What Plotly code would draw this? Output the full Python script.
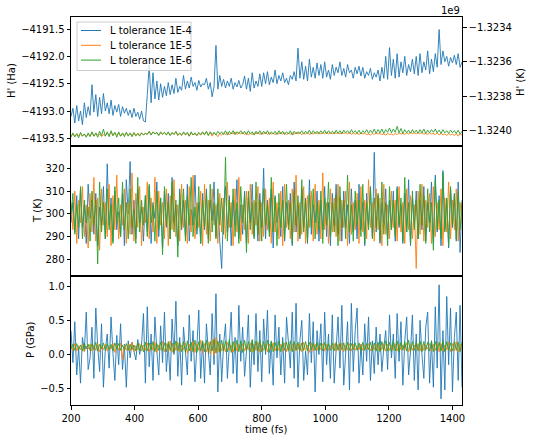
import plotly.graph_objects as go

# time axis (fs), one sample every 6 fs
time = list(range(200, 1431, 6))

series_names = ["L tolerance 1E-4", "L tolerance 1E-5", "L tolerance 1E-6"]
colors = ["#1f77b4", "#ff7f0e", "#2ca02c"]

# H' (Ha)
H_1e4 = [
    -4193.10, -4192.95, -4193.22, -4192.90, -4193.18, -4193.00, -4193.25, -4192.85, -4193.12, -4192.92,
    -4193.08, -4192.52, -4193.02, -4192.70, -4193.10, -4192.75, -4193.05, -4192.68, -4193.00, -4192.85,
    -4193.05, -4192.80, -4193.08, -4192.90, -4193.02, -4192.88, -4193.10, -4192.92, -4193.04, -4192.95,
    -4193.08, -4192.98, -4193.12, -4192.95, -4193.10, -4193.02, -4193.15, -4193.00, -4193.18, -4193.20,
    -4192.70, -4192.16, -4192.85, -4192.30, -4192.78, -4192.45, -4192.80, -4192.50, -4192.75, -4192.55,
    -4192.72, -4192.48, -4192.70, -4192.52, -4192.68, -4192.40, -4192.66, -4192.55, -4192.62, -4192.35,
    -4192.60, -4192.45, -4192.58, -4192.38, -4192.55, -4192.48, -4192.62, -4192.44, -4192.56, -4192.50,
    -4192.52, -4192.40, -4192.60, -4192.48, -4192.74, -4192.55, -4191.80, -4192.60, -4192.35, -4192.55,
    -4192.42, -4192.58, -4192.45, -4192.55, -4192.40, -4192.60, -4192.48, -4192.56, -4192.44, -4192.58,
    -4192.52, -4192.36, -4192.60, -4192.40, -4192.64, -4192.30, -4192.58, -4192.45, -4192.55, -4192.32,
    -4192.55, -4192.30, -4192.50, -4192.28, -4192.52, -4192.38, -4192.48, -4192.25, -4192.50, -4192.35,
    -4192.45, -4192.30, -4192.48, -4192.40, -4192.52, -4192.35, -4192.42, -4192.28, -4192.45, -4191.85,
    -4192.40, -4192.10, -4192.42, -4192.18, -4192.45, -4192.05, -4192.38, -4192.20, -4192.40, -4192.12,
    -4192.35, -4192.15, -4192.40, -4192.10, -4192.38, -4192.25, -4192.42, -4192.15, -4192.35, -4192.20,
    -4192.30, -4192.10, -4192.35, -4192.22, -4192.38, -4192.15, -4192.30, -4192.25, -4192.40, -4192.20,
    -4192.32, -4192.18, -4192.36, -4192.20, -4192.40, -4192.28, -4192.35, -4192.22, -4192.42, -4192.30,
    -4192.38, -4192.25, -4192.45, -4192.20, -4192.40, -4192.00, -4192.42, -4191.84, -4192.35, -4192.05,
    -4192.40, -4191.95, -4192.38, -4192.10, -4192.30, -4192.00, -4192.35, -4192.15, -4192.28, -4192.05,
    -4192.32, -4192.00, -4192.35, -4191.95, -4192.30, -4192.10, -4192.25, -4191.90, -4192.32, -4192.05,
    -4192.28, -4191.95, -4192.20, -4191.51, -4192.15, -4191.90, -4192.10, -4192.00, -4192.18, -4192.02,
    -4192.12, -4191.98, -4192.15, -4191.95, -4192.20, -4192.10,
]
H_1e5 = [
    -4193.46, -4193.42, -4193.47, -4193.43, -4193.45, -4193.41, -4193.46, -4193.42, -4193.47, -4193.43,
    -4193.45, -4193.40, -4193.46, -4193.41, -4193.44, -4193.42, -4193.47, -4193.43, -4193.45, -4193.41,
    -4193.44, -4193.39, -4193.45, -4193.40, -4193.43, -4193.41, -4193.46, -4193.42, -4193.44, -4193.40,
    -4193.45, -4193.41, -4193.44, -4193.42, -4193.46, -4193.41, -4193.44, -4193.40, -4193.43, -4193.41,
    -4193.42, -4193.38, -4193.43, -4193.39, -4193.41, -4193.40, -4193.44, -4193.40, -4193.42, -4193.39,
    -4193.43, -4193.40, -4193.44, -4193.41, -4193.42, -4193.39, -4193.45, -4193.41, -4193.43, -4193.40,
    -4193.44, -4193.41, -4193.46, -4193.40, -4193.43, -4193.42, -4193.45, -4193.41, -4193.44, -4193.40,
    -4193.42, -4193.38, -4193.44, -4193.39, -4193.46, -4193.40, -4193.43, -4193.47, -4193.41, -4193.44,
    -4193.40, -4193.43, -4193.39, -4193.44, -4193.40, -4193.42, -4193.38, -4193.43, -4193.40, -4193.42,
    -4193.39, -4193.43, -4193.40, -4193.44, -4193.41, -4193.43, -4193.40, -4193.42, -4193.39, -4193.43,
    -4193.40, -4193.42, -4193.39, -4193.43, -4193.40, -4193.42, -4193.41, -4193.43, -4193.40, -4193.42,
    -4193.39, -4193.42, -4193.40, -4193.43, -4193.41, -4193.42, -4193.40, -4193.43, -4193.39, -4193.42,
    -4193.40, -4193.43, -4193.41, -4193.42, -4193.40, -4193.43, -4193.41, -4193.42, -4193.40, -4193.41,
    -4193.39, -4193.42, -4193.40, -4193.41, -4193.39, -4193.42, -4193.40, -4193.42, -4193.39, -4193.41,
    -4193.40, -4193.42, -4193.39, -4193.41, -4193.40, -4193.42, -4193.39, -4193.43, -4193.40, -4193.42,
    -4193.41, -4193.43, -4193.40, -4193.42, -4193.41, -4193.43, -4193.42, -4193.44, -4193.41, -4193.43,
    -4193.40, -4193.42, -4193.41, -4193.43, -4193.42, -4193.44, -4193.41, -4193.43, -4193.42, -4193.44,
    -4193.41, -4193.43, -4193.40, -4193.42, -4193.41, -4193.43, -4193.40, -4193.42, -4193.39, -4193.41,
    -4193.40, -4193.42, -4193.39, -4193.41, -4193.40, -4193.42, -4193.41, -4193.43, -4193.40, -4193.42,
    -4193.41, -4193.43, -4193.40, -4193.44, -4193.41, -4193.43, -4193.42, -4193.45, -4193.41, -4193.44,
    -4193.42, -4193.45, -4193.41, -4193.46, -4193.42, -4193.44,
]
H_1e6 = [
    -4193.48, -4193.40, -4193.47, -4193.41, -4193.49, -4193.39, -4193.46, -4193.42, -4193.48, -4193.40,
    -4193.47, -4193.38, -4193.46, -4193.40, -4193.48, -4193.37, -4193.45, -4193.33, -4193.46, -4193.38,
    -4193.47, -4193.36, -4193.45, -4193.39, -4193.48, -4193.38, -4193.46, -4193.40, -4193.47, -4193.39,
    -4193.46, -4193.40, -4193.47, -4193.39, -4193.45, -4193.41, -4193.46, -4193.40, -4193.44, -4193.41,
    -4193.43, -4193.37, -4193.44, -4193.38, -4193.42, -4193.39, -4193.45, -4193.38, -4193.43, -4193.39,
    -4193.44, -4193.38, -4193.45, -4193.39, -4193.43, -4193.37, -4193.44, -4193.40, -4193.45, -4193.38,
    -4193.43, -4193.39, -4193.46, -4193.38, -4193.44, -4193.40, -4193.45, -4193.39, -4193.43, -4193.38,
    -4193.44, -4193.37, -4193.45, -4193.38, -4193.43, -4193.39, -4193.44, -4193.37, -4193.42, -4193.38,
    -4193.43, -4193.36, -4193.44, -4193.37, -4193.42, -4193.36, -4193.43, -4193.38, -4193.41, -4193.36,
    -4193.42, -4193.37, -4193.43, -4193.36, -4193.42, -4193.38, -4193.44, -4193.37, -4193.42, -4193.36,
    -4193.43, -4193.37, -4193.42, -4193.36, -4193.43, -4193.38, -4193.42, -4193.37, -4193.43, -4193.36,
    -4193.42, -4193.37, -4193.43, -4193.38, -4193.42, -4193.36, -4193.44, -4193.37, -4193.42, -4193.38,
    -4193.41, -4193.36, -4193.42, -4193.37, -4193.41, -4193.35, -4193.42, -4193.36, -4193.41, -4193.37,
    -4193.42, -4193.36, -4193.41, -4193.35, -4193.42, -4193.36, -4193.41, -4193.37, -4193.42, -4193.35,
    -4193.41, -4193.36, -4193.42, -4193.35, -4193.40, -4193.36, -4193.41, -4193.34, -4193.40, -4193.36,
    -4193.41, -4193.35, -4193.42, -4193.36, -4193.40, -4193.34, -4193.41, -4193.35, -4193.40, -4193.33,
    -4193.41, -4193.34, -4193.40, -4193.33, -4193.41, -4193.34, -4193.39, -4193.31, -4193.40, -4193.33,
    -4193.39, -4193.28, -4193.40, -4193.32, -4193.41, -4193.34, -4193.40, -4193.35, -4193.41, -4193.34,
    -4193.40, -4193.35, -4193.41, -4193.34, -4193.40, -4193.33, -4193.41, -4193.35, -4193.40, -4193.34,
    -4193.39, -4193.33, -4193.40, -4193.35, -4193.41, -4193.34, -4193.40, -4193.36, -4193.41, -4193.35,
    -4193.40, -4193.36, -4193.41, -4193.35, -4193.42, -4193.37,
]

# T (K)
T_1e4 = [
    296, 305, 292, 308, 289, 311, 294, 304, 287, 313,
    298, 306, 291, 309, 286, 303, 295, 312, 289, 322,
    295, 307, 288, 310, 293, 301, 290, 309, 286, 315,
    300, 323, 291, 306, 289, 311, 296, 303, 288, 308,
    292, 312, 287, 305, 298, 314, 290, 307, 285, 310,
    294, 309, 289, 316, 296, 304, 286, 311, 293, 306,
    290, 313, 288, 302, 295, 317, 291, 305, 287, 309,
    293, 311, 289, 306, 297, 314, 290, 305, 288, 276,
    303, 312, 292, 308, 286, 306, 295, 315, 289, 304,
    291, 310, 287, 307, 296, 313, 290, 305, 288, 309,
    294, 320, 289, 306, 292, 311, 285, 308, 296, 303,
    290, 312, 288, 305, 295, 309, 286, 314, 292, 304,
    289, 311, 294, 307, 287, 315, 291, 304, 296, 310,
    288, 306, 293, 312, 290, 305, 286, 309, 295, 313,
    291, 307, 288, 310, 294, 304, 287, 311, 292, 306,
    289, 313, 293, 305, 286, 309, 295, 312, 290, 327,
    292, 308, 287, 305, 296, 311, 289, 306, 293, 310,
    288, 312, 294, 304, 287, 309, 292, 315, 286, 307,
    295, 310, 289, 306, 293, 312, 288, 305, 296, 314,
    287, 317, 292, 308, 286, 319, 293, 306, 285, 311,
    294, 309, 288, 314, 283, 306,
]
T_1e5 = [
    305, 293, 310, 287, 306, 296, 312, 290, 304, 285,
    309, 292, 316, 288, 307, 284, 311, 295, 305, 290,
    313, 286, 308, 293, 317, 289, 304, 295, 311, 287,
    305, 291, 318, 288, 309, 294, 312, 286, 303, 296,
    314, 289, 307, 292, 316, 287, 310, 295, 305, 289,
    311, 286, 308, 293, 315, 290, 304, 288, 313, 294,
    306, 287, 312, 292, 317, 289, 305, 294, 310, 286,
    313, 291, 306, 288, 311, 295, 304, 287, 309, 292,
    307, 289, 314, 294, 305, 286, 311, 292, 316, 288,
    304, 293, 310, 287, 313, 291, 306, 295, 312, 288,
    305, 290, 311, 293, 307, 287, 314, 292, 305, 289,
    310, 286, 313, 294, 306, 289, 311, 292, 317, 288,
    305, 291, 312, 287, 308, 294, 310, 288, 313, 291,
    306, 289, 318, 293, 305, 287, 311, 292, 307, 290,
    313, 288, 306, 294, 310, 286, 314, 291, 305, 293,
    309, 287, 312, 292, 306, 289, 315, 294, 305, 288,
    311, 293, 307, 286, 313, 291, 304, 289, 310, 294,
    306, 288, 312, 292, 305, 287, 311, 293, 308, 289,
    304, 276, 310, 291, 313, 288, 306, 294, 309, 287,
    312, 290, 305, 293, 311, 286, 307, 292, 314, 289,
    306, 293, 311, 288, 305, 296,
]
T_1e6 = [
    300, 309, 291, 304, 294, 312, 289, 306, 296, 303,
    288, 310, 295, 306, 278, 314, 292, 305, 289, 311,
    293, 304, 287, 312, 296, 307, 290, 314, 293, 305,
    289, 311, 294, 302, 287, 316, 292, 306, 295, 308,
    290, 313, 296, 304, 288, 310, 293, 307, 282, 312,
    295, 305, 289, 314, 292, 306, 281, 309, 294, 311,
    288, 308, 295, 316, 290, 303, 293, 312, 287, 306,
    294, 309, 287, 313, 292, 305, 289, 311, 295, 307,
    291, 325, 288, 306, 294, 311, 290, 305, 287, 312,
    296, 308, 283, 310, 293, 305, 289, 314, 291, 306,
    288, 311, 295, 304, 290, 316, 292, 307, 286, 309,
    294, 306, 289, 313, 293, 305, 287, 310, 295, 308,
    290, 315, 292, 306, 288, 309, 294, 311, 289, 305,
    293, 310, 287, 307, 295, 314, 290, 305, 292, 308,
    286, 312, 294, 306, 289, 317, 292, 304, 288, 310,
    295, 306, 290, 313, 287, 305, 293, 311, 289, 307,
    294, 309, 288, 314, 291, 305, 286, 312, 293, 306,
    290, 311, 295, 307, 288, 316, 292, 305, 287, 310,
    293, 306, 289, 313, 295, 308, 287, 311, 292, 305,
    284, 315, 293, 306, 289, 318, 292, 307, 286, 312,
    295, 308, 289, 310, 293, 305,
]

# P (GPa)
P_1e4 = [
    0.35, -0.12, 0.48, -0.30, 0.10, -0.42, 0.25, 0.05, 0.62, -0.22,
    -0.05, 0.40, -0.35, 0.68, 0.12, -0.25, 0.45, -0.48, 0.08, 0.30,
    -0.20, 0.55, 0.02, -0.38, 0.28, -0.15, 0.45, -0.22, 0.15, -0.48,
    0.20, -0.05, 0.18, 0.02, -0.08, 0.22, 0.00, 0.15, 0.60, -0.42,
    0.70, -0.18, 0.30, -0.38, 0.55, 0.05, -0.30, 0.42, -0.12, 0.62,
    -0.25, 0.15, -0.38, 0.52, 0.00, 0.78, -0.32, 0.25, -0.45, 0.40,
    0.08, -0.30, 0.58, -0.10, 0.35, -0.40, 0.12, 0.65, -0.35, 0.20,
    -0.42, 0.45, 0.05, -0.30, 0.60, -0.15, 0.89, -0.55, 0.30, -0.40,
    0.15, 0.45, -0.35, 0.10, 0.62, -0.28, 0.25, -0.42, 0.72, -0.10,
    0.40, -0.32, 0.05, 0.58, -0.48, 0.20, -0.15, 0.60, -0.25, 0.35,
    -0.40, 0.52, 0.00, 0.65, -0.28, 0.18, -0.45, 0.58, -0.05, 0.40,
    -0.30, 0.25, -0.42, 0.55, 0.10, -0.20, 0.62, -0.35, 0.75, -0.48,
    0.20, 0.50, -0.38, 0.05, -0.30, 0.60, -0.12, 0.48, -0.55, 0.35,
    0.00, 0.45, -0.40, 0.62, -0.15, 0.30, -0.35, 0.58, -0.42, 0.18,
    0.55, -0.20, 0.72, -0.45, 0.10, 0.48, -0.52, 0.75, -0.25, 0.35,
    0.68, -0.42, 0.15, -0.30, 0.45, -0.10, 0.55, -0.38, 0.20, -0.28,
    0.40, -0.15, 0.30, -0.25, 0.10, 0.35, -0.22, 0.58, -0.05, 0.30,
    -0.35, 0.60, -0.10, 0.48, -0.45, 0.20, 0.55, -0.30, 0.05, 0.58,
    -0.38, 0.30, -0.52, 0.50, 0.00, -0.35, 0.40, 0.62, -0.42, 0.20,
    -0.48, 0.70, -0.20, 1.02, -0.65, 0.35, -0.52, 0.85, -0.15, 0.68,
    -0.55, 0.25, 0.62, -0.38, 0.72, -0.48,
]
P_1e5 = [
    0.14, 0.06, 0.16, 0.05, 0.13, 0.07, 0.15, 0.04, 0.12, 0.08,
    0.15, 0.05, 0.14, 0.06, 0.16, 0.04, 0.13, 0.07, 0.15, 0.05,
    0.12, 0.08, 0.16, 0.03, 0.14, 0.06, 0.17, -0.08, 0.13, 0.06,
    0.15, 0.05, 0.18, 0.04, 0.13, 0.07, 0.16, 0.05, 0.14, 0.06,
    0.17, 0.04, 0.15, 0.06, 0.18, 0.03, 0.14, 0.07, 0.19, 0.04,
    0.16, 0.05, 0.20, 0.03, 0.15, 0.06, 0.18, 0.04, 0.14, 0.07,
    0.17, 0.02, 0.15, 0.05, 0.19, 0.03, 0.16, 0.06, 0.21, 0.02,
    0.16, 0.04, 0.18, 0.01, 0.22, -0.02, 0.25, 0.03, 0.17, 0.05,
    0.15, 0.04, 0.18, 0.06, 0.14, 0.03, 0.17, 0.05, 0.15, 0.06,
    0.16, 0.05, 0.14, 0.07, 0.17, 0.04, 0.15, 0.06, 0.18, 0.03,
    0.14, 0.06, 0.16, 0.04, 0.15, 0.07, 0.17, 0.05, 0.13, 0.06,
    0.15, 0.05, 0.17, 0.04, 0.14, 0.06, 0.16, 0.05, 0.15, 0.07,
    0.16, 0.04, 0.18, 0.06, 0.14, 0.03, 0.17, 0.05, 0.15, 0.06,
    0.14, 0.07, 0.16, 0.05, 0.15, 0.06, 0.13, 0.08, 0.16, 0.05,
    0.15, 0.06, 0.17, 0.04, 0.14, 0.07, 0.16, 0.05, 0.15, 0.06,
    0.13, 0.07, 0.15, 0.06, 0.14, 0.08, 0.16, 0.05, 0.13, 0.07,
    0.15, 0.06, 0.14, 0.07, 0.16, 0.05, 0.15, 0.06, 0.14, 0.07,
    0.16, 0.05, 0.15, 0.07, 0.14, 0.06, 0.17, 0.04, 0.15, 0.06,
    0.14, 0.07, 0.16, 0.05, 0.15, 0.06, 0.14, 0.08, 0.16, 0.05,
    0.15, 0.06, 0.17, 0.04, 0.16, 0.05, 0.14, 0.07, 0.18, 0.04,
    0.16, 0.05, 0.19, 0.04, 0.15, 0.06,
]
P_1e6 = [
    0.08, 0.15, 0.06, 0.16, 0.07, 0.14, 0.05, 0.17, 0.08, 0.15,
    0.06, 0.16, 0.07, 0.18, 0.05, 0.15, 0.08, 0.17, 0.06, 0.16,
    0.07, 0.15, 0.05, 0.17, 0.08, 0.16, 0.06, 0.14, 0.07, 0.16,
    0.06, 0.15, 0.07, 0.14, 0.05, 0.17, 0.06, 0.15, 0.04, 0.18,
    0.05, 0.17, 0.07, 0.19, 0.04, 0.16, 0.06, 0.18, 0.05, 0.17,
    0.04, 0.19, 0.06, 0.17, 0.03, 0.20, 0.05, 0.18, 0.04, 0.19,
    0.03, 0.20, 0.05, 0.18, 0.04, 0.21, 0.03, 0.19, 0.05, 0.20,
    0.04, 0.21, 0.03, 0.19, 0.05, 0.22, 0.02, 0.20, 0.04, 0.21,
    0.05, 0.20, 0.04, 0.22, 0.03, 0.19, 0.05, 0.21, 0.04, 0.20,
    0.03, 0.21, 0.05, 0.19, 0.04, 0.22, 0.03, 0.20, 0.05, 0.21,
    0.04, 0.19, 0.05, 0.21, 0.03, 0.20, 0.04, 0.18, 0.05, 0.20,
    0.04, 0.19, 0.06, 0.18, 0.05, 0.20, 0.04, 0.19, 0.06, 0.18,
    0.05, 0.17, 0.06, 0.19, 0.05, 0.18, 0.07, 0.17, 0.06, 0.18,
    0.06, 0.17, 0.05, 0.18, 0.07, 0.16, 0.06, 0.17, 0.05, 0.18,
    0.06, 0.16, 0.07, 0.17, 0.05, 0.18, 0.06, 0.16, 0.07, 0.17,
    0.06, 0.17, 0.05, 0.18, 0.06, 0.16, 0.07, 0.18, 0.05, 0.17,
    0.05, 0.18, 0.04, 0.19, 0.06, 0.20, 0.05, 0.18, 0.04, 0.19,
    0.05, 0.20, 0.04, 0.18, 0.06, 0.19, 0.05, 0.21, 0.04, 0.19,
    0.06, 0.18, 0.05, 0.20, 0.04, 0.19, 0.06, 0.18, 0.05, 0.20,
    0.04, 0.19, 0.06, 0.18, 0.05, 0.20, 0.04, 0.19, 0.06, 0.17,
    0.05, 0.19, 0.06, 0.18, 0.04, 0.18,
]

# Axis ticks
x_ticks = [200, 400, 600, 800, 1000, 1200, 1400]
H_ticks = [-4191.5, -4192.0, -4192.5, -4193.0, -4193.5]
HK_ticks = [-1.3234e9, -1.3236e9, -1.3238e9, -1.3240e9]
HK_ticktext = ["\u22121.3234", "\u22121.3236", "\u22121.3238", "\u22121.3240"]
T_ticks = [280, 290, 300, 310, 320]
P_ticks = [-0.5, 0.0, 0.5, 1.0]

FONT = "DejaVu Sans, Verdana, sans-serif"
LW = 0.9

fig = go.Figure()
for vals, name, c in zip([H_1e4, H_1e5, H_1e6], series_names, colors):
    fig.add_trace(go.Scatter(x=time, y=vals, mode="lines", name=name, showlegend=False,
                             line=dict(color=c, width=LW), xaxis="x", yaxis="y"))
for vals, name, c in zip([T_1e4, T_1e5, T_1e6], series_names, colors):
    fig.add_trace(go.Scatter(x=time, y=vals, mode="lines", name=name, showlegend=False,
                             line=dict(color=c, width=LW), xaxis="x2", yaxis="y2"))
for vals, name, c in zip([P_1e4, P_1e5, P_1e6], series_names, colors):
    fig.add_trace(go.Scatter(x=time, y=vals, mode="lines", name=name, showlegend=False,
                             line=dict(color=c, width=LW), xaxis="x3", yaxis="y3"))
# twin axis (K) for the top panel
fig.add_trace(go.Scatter(x=[None], y=[None], mode="lines", showlegend=False,
                         hoverinfo="skip", xaxis="x", yaxis="y4"))

axis_common = dict(showline=True, linecolor="black", linewidth=1, mirror=True,
                   ticks="outside", ticklen=3.5, tickwidth=1, tickcolor="black",
                   showgrid=False, zeroline=False,
                   tickfont=dict(family=FONT, size=10, color="black"))

xr = [200, 1430]
W, H = 534, 443
L, R, T, B = 71, 72, 17, 38
pw, ph = W - L - R, H - T - B

fig.update_layout(
    width=W, height=H,
    margin=dict(l=L, r=R, t=T, b=B),
    paper_bgcolor="white", plot_bgcolor="white",
    font=dict(family=FONT, size=10, color="black"),
    showlegend=False,
    xaxis=dict(axis_common, domain=[0, 1], anchor="y", range=xr, showticklabels=False,
               ticks="", matches="x3"),
    xaxis2=dict(axis_common, domain=[0, 1], anchor="y2", range=xr, showticklabels=False,
                ticks="", matches="x3"),
    xaxis3=dict(axis_common, domain=[0, 1], anchor="y3", range=xr, tickvals=x_ticks),
    yaxis=dict(axis_common, domain=[0.6675, 1], anchor="x", range=[-4193.64, -4191.28],
               tickvals=H_ticks, tickformat=".1f"),
    yaxis4=dict(axis_common, overlaying="y", side="right", anchor="x",
                range=[-1.3240892e9, -1.3233394e9], tickvals=HK_ticks, ticktext=HK_ticktext),
    yaxis2=dict(axis_common, domain=[0.3325, 0.6675], anchor="x2", range=[272.7, 329.8],
                tickvals=T_ticks),
    yaxis3=dict(axis_common, domain=[0, 0.3325], anchor="x3", range=[-0.74, 1.15],
                tickvals=P_ticks, tickformat=".1f"),
)


def px(xp):
    return (xp - L) / pw


def py(yp):
    return (H - B - yp) / ph


# legend drawn as box + line samples + labels (matplotlib-style layout)
fig.add_shape(type="rect", xref="paper", yref="paper",
              x0=px(77), x1=px(191), y0=py(70.5), y1=py(22),
              fillcolor="rgba(255,255,255,0.8)", line=dict(color="#cccccc", width=1),
              layer="above")
for k, (name, c) in enumerate(zip(series_names, colors)):
    yk = 30.5 + 14.8 * k
    fig.add_shape(type="line", xref="paper", yref="paper",
                  x0=px(81), x1=px(101), y0=py(yk), y1=py(yk),
                  line=dict(color=c, width=1), layer="above")
    fig.add_annotation(text=name, x=px(108), y=py(yk), xref="paper", yref="paper",
                       showarrow=False, xanchor="left", yanchor="middle",
                       font=dict(family=FONT, size=10, color="black"))

labels = [
    ("H' (Ha)", 12, 81, -90),
    ("T (K)", 37, 211, -90),
    ("P (GPa)", 30, 340, -90),
    ("H' (K)", 521, 82, -90),
    ("time (fs)", 266, 429, 0),
]
for text, xp, yp, ang in labels:
    fig.add_annotation(text=text, x=px(xp), y=py(yp), xref="paper", yref="paper",
                       showarrow=False, textangle=ang, xanchor="center", yanchor="middle",
                       font=dict(family=FONT, size=10, color="black"))
fig.add_annotation(text="1e9", x=px(462), y=py(10), xref="paper", yref="paper",
                   showarrow=False, xanchor="right", yanchor="middle",
                   font=dict(family=FONT, size=10, color="black"))

fig.write_html("out.html")
